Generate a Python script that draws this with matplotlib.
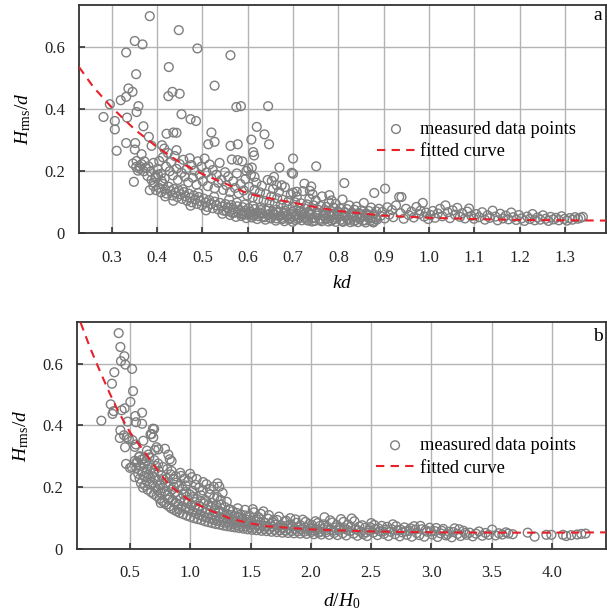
import numpy as np
import matplotlib
matplotlib.use("Agg")
import matplotlib.pyplot as plt

plt.rcParams['font.family'] = ['Liberation Serif', 'DejaVu Serif']
plt.rcParams['mathtext.fontset'] = 'custom'
plt.rcParams['mathtext.rm'] = 'Liberation Serif'
plt.rcParams['mathtext.it'] = 'Liberation Serif:italic'

# ---- panel a: Hrms/d against kd ----
a_sparse = [(0.384,0.699),(0.448,0.654),(0.351,0.619),(0.368,0.608),(0.332,0.582),(0.489,0.595),
            (0.562,0.573),(0.426,0.535),(0.354,0.512),(0.527,0.475),(0.337,0.466),(0.346,0.455),
            (0.332,0.439),(0.320,0.428),(0.425,0.441),(0.434,0.455),(0.450,0.449),(0.359,0.409),
            (0.296,0.415),(0.575,0.406),(0.585,0.409),(0.645,0.409),(0.282,0.374),(0.307,0.361),
            (0.307,0.334),(0.334,0.372),(0.355,0.390),(0.454,0.383),(0.474,0.367),(0.486,0.361),
            (0.370,0.344),(0.620,0.342),(0.637,0.318),(0.520,0.324),(0.421,0.320),(0.436,0.324),
            (0.443,0.323),(0.382,0.310),(0.608,0.301),(0.647,0.286),(0.527,0.294),(0.513,0.286),
            (0.562,0.281),(0.578,0.286),(0.332,0.290),(0.352,0.290),(0.311,0.265),(0.388,0.281),
            (0.411,0.283),(0.416,0.272),(0.443,0.267),(0.351,0.269),(0.366,0.254),(0.700,0.240),
            (0.355,0.232),(0.347,0.224),(0.362,0.215),(0.349,0.165),(0.384,0.138),(0.700,0.191),
            (0.670,0.211),(0.609,0.211),(0.615,0.181),(0.597,0.200),(0.601,0.208),(0.612,0.261),
            (0.614,0.250),(0.578,0.235),(0.751,0.215),(0.697,0.194),(0.658,0.181),(0.653,0.168),
            (0.664,0.154),(0.675,0.154),(0.725,0.159),(0.740,0.150),(0.737,0.136),(0.743,0.125),
            (0.813,0.161),(0.879,0.129),(0.903,0.143),(0.700,0.130),(0.708,0.133),(0.780,0.122),
            (0.785,0.105),(0.354,0.213),(0.358,0.201),(0.362,0.207),(0.366,0.222),(0.371,0.199),
            (0.375,0.210),(0.379,0.184),(0.372,0.231),(0.388,0.171),(0.393,0.162),(0.397,0.177),
            (0.402,0.188),(0.410,0.168)]

a_upper = [(0.381,0.215),(0.386,0.198),(0.392,0.226),(0.397,0.183),(0.401,0.207),(0.405,0.232),
           (0.409,0.191),(0.413,0.244),(0.417,0.176),(0.420,0.214),(0.424,0.258),(0.428,0.199),
           (0.431,0.229),(0.435,0.186),(0.439,0.248),(0.443,0.207),(0.446,0.171),(0.450,0.222),
           (0.454,0.194),(0.458,0.236),(0.461,0.182),(0.465,0.205),(0.469,0.163),(0.472,0.241),
           (0.476,0.219),(0.479,0.178),(0.483,0.201),(0.487,0.156),(0.490,0.231),(0.494,0.188),
           (0.498,0.214),(0.501,0.167),(0.505,0.240),(0.509,0.195),(0.512,0.151),(0.516,0.221),
           (0.520,0.176),(0.523,0.203),(0.527,0.144),(0.531,0.188),(0.535,0.162),(0.538,0.226),
           (0.542,0.171),(0.546,0.139),(0.550,0.196),(0.553,0.154),(0.557,0.182),(0.561,0.132),
           (0.565,0.237),(0.568,0.167),(0.572,0.145),(0.576,0.192),(0.580,0.128),(0.584,0.158),
           (0.588,0.231),(0.591,0.137),(0.595,0.174),(0.599,0.121),(0.603,0.149),(0.607,0.188),
           (0.611,0.115),(0.615,0.139),(0.619,0.162),(0.623,0.109),(0.627,0.131),(0.631,0.152),
           (0.635,0.104),(0.640,0.125),(0.644,0.171),(0.648,0.099),(0.652,0.118),(0.656,0.142),
           (0.660,0.095),(0.665,0.112),(0.669,0.133),(0.673,0.091),(0.677,0.107),(0.682,0.148),
           (0.686,0.088),(0.690,0.103),(0.695,0.124),(0.699,0.085),(0.704,0.099),(0.708,0.117),
           (0.713,0.082),(0.717,0.096),(0.722,0.135),(0.726,0.079),(0.731,0.092),(0.736,0.111),
           (0.740,0.077),(0.745,0.089),(0.750,0.105),(0.755,0.075),(0.760,0.087),(0.764,0.118),
           (0.769,0.073),(0.774,0.084),(0.779,0.099),(0.784,0.071),(0.789,0.082),(0.794,0.094),
           (0.799,0.069),(0.804,0.079),(0.809,0.108),(0.814,0.067),(0.819,0.077),(0.824,0.089),
           (0.830,0.066),(0.835,0.075),(0.840,0.085),(0.845,0.064),(0.851,0.073),(0.856,0.097),
           (0.861,0.063),(0.867,0.071),(0.872,0.082),(0.878,0.061),(0.883,0.070),(0.889,0.078)]

a_lower = [(0.392,0.152),(0.398,0.138),(0.404,0.146),(0.409,0.131),(0.413,0.158),(0.418,0.140),
           (0.421,0.127),(0.426,0.149),(0.430,0.135),(0.434,0.121),(0.437,0.142),(0.441,0.130),
           (0.445,0.116),(0.448,0.137),(0.452,0.125),(0.455,0.110),(0.459,0.132),(0.462,0.119),
           (0.466,0.104),(0.470,0.127),(0.473,0.113),(0.477,0.099),(0.481,0.121),(0.484,0.108),
           (0.488,0.094),(0.492,0.116),(0.495,0.103),(0.499,0.089),(0.503,0.111),(0.507,0.098),
           (0.511,0.084),(0.515,0.106),(0.519,0.093),(0.523,0.080),(0.527,0.101),(0.531,0.089),
           (0.535,0.076),(0.539,0.097),(0.543,0.085),(0.547,0.072),(0.551,0.093),(0.556,0.081),
           (0.560,0.069),(0.564,0.090),(0.568,0.077),(0.572,0.066),(0.577,0.086),(0.581,0.074),
           (0.585,0.062),(0.589,0.083),(0.593,0.071),(0.598,0.059),(0.602,0.080),(0.606,0.068),
           (0.611,0.056),(0.615,0.077),(0.619,0.065),(0.624,0.054),(0.628,0.074),(0.632,0.062),
           (0.637,0.051),(0.641,0.072),(0.646,0.060),(0.650,0.049),(0.655,0.069),(0.659,0.058),
           (0.664,0.047),(0.668,0.067),(0.673,0.056),(0.677,0.045),(0.682,0.065),(0.686,0.054),
           (0.691,0.044),(0.695,0.063),(0.700,0.052),(0.705,0.042),(0.709,0.061),(0.714,0.050),
           (0.719,0.041),(0.723,0.059),(0.728,0.049),(0.733,0.040),(0.738,0.058),(0.743,0.047),
           (0.748,0.039),(0.753,0.056),(0.758,0.046),(0.763,0.038),(0.768,0.055),(0.773,0.045),
           (0.778,0.037),(0.783,0.054),(0.789,0.044),(0.794,0.036),(0.799,0.053),(0.805,0.043),
           (0.810,0.036),(0.815,0.052),(0.821,0.042),(0.826,0.035),(0.832,0.051),(0.837,0.041),
           (0.843,0.035),(0.849,0.050),(0.854,0.040),(0.860,0.034),(0.866,0.049),(0.871,0.040),
           (0.877,0.034),(0.882,0.046)]

a_bulk = [(0.553,0.071),(0.561,0.058),(0.567,0.064),(0.574,0.052),(0.579,0.067),(0.586,0.055),
          (0.592,0.061),(0.597,0.048),(0.604,0.063),(0.609,0.050),(0.616,0.058),(0.621,0.045),
          (0.627,0.066),(0.633,0.053),(0.639,0.043),(0.644,0.059),(0.651,0.047),(0.657,0.062),
          (0.662,0.040),(0.669,0.054),(0.675,0.049),(0.681,0.038),(0.687,0.058),(0.693,0.047),
          (0.699,0.036),(0.706,0.055),(0.711,0.045),(0.718,0.065),(0.724,0.052),(0.730,0.043),
          (0.736,0.061),(0.742,0.037),(0.748,0.050),(0.754,0.066),(0.760,0.042),(0.766,0.057),
          (0.772,0.048),(0.778,0.062),(0.785,0.040),(0.791,0.059),(0.797,0.047),(0.803,0.064),
          (0.809,0.039),(0.815,0.056),(0.822,0.046),(0.828,0.061),(0.834,0.038),(0.840,0.053),
          (0.847,0.045),(0.853,0.058),(0.859,0.041),(0.865,0.055),(0.871,0.047),(0.876,0.037),
          (0.881,0.052),(0.885,0.043),
          (0.418,0.118),(0.436,0.104),(0.457,0.141),(0.474,0.088),(0.491,0.129),(0.508,0.073),
          (0.526,0.117),(0.544,0.062),(0.559,0.108),(0.576,0.098),(0.594,0.092),(0.612,0.087),
          (0.629,0.083),(0.647,0.078),(0.663,0.075),(0.681,0.072),(0.698,0.068),(0.716,0.071),
          (0.734,0.068),(0.752,0.063),(0.771,0.066),(0.790,0.063),(0.808,0.060),(0.827,0.058),
          (0.846,0.062),(0.864,0.059)]

a_tail = [(0.893,0.055),(0.897,0.068),(0.902,0.047),(0.908,0.083),(0.912,0.059),(0.918,0.074),
          (0.921,0.051),(0.927,0.089),(0.934,0.116),(0.939,0.116),(0.937,0.064),(0.944,0.046),
          (0.949,0.078),(0.955,0.058),(0.961,0.069),(0.966,0.050),(0.972,0.084),(0.978,0.061),
          (0.981,0.072),(0.986,0.097),(0.989,0.053),(0.993,0.066),(0.998,0.045),(1.003,0.058),
          (1.008,0.071),(1.013,0.049),(1.019,0.063),(1.024,0.078),(1.029,0.054),(1.036,0.089),
          (1.041,0.067),(1.046,0.048),(1.052,0.073),(1.057,0.059),(1.062,0.081),(1.068,0.052),
          (1.073,0.064),(1.079,0.047),(1.084,0.069),(1.088,0.079),(1.093,0.055),(1.099,0.046),
          (1.104,0.061),(1.110,0.051),(1.117,0.067),(1.123,0.043),(1.129,0.057),(1.134,0.049),
          (1.140,0.072),(1.146,0.053),(1.151,0.041),(1.157,0.062),(1.163,0.047),(1.169,0.056),
          (1.175,0.044),(1.181,0.066),(1.186,0.051),(1.192,0.042),(1.198,0.058),(1.204,0.047),
          (1.210,0.039),(1.216,0.053),(1.222,0.045),(1.228,0.061),(1.233,0.041),(1.239,0.050),
          (1.245,0.043),(1.251,0.057),(1.257,0.046),(1.263,0.039),(1.268,0.052),(1.274,0.044),
          (1.280,0.049),(1.286,0.041),(1.292,0.054),(1.298,0.045),(1.304,0.040),(1.310,0.048),
          (1.316,0.043),(1.322,0.051),(1.328,0.046),(1.334,0.049),(1.339,0.052)]

kd_fit = [0.228, 0.26, 0.30, 0.35, 0.40, 0.45, 0.50, 0.55, 0.60, 0.65, 0.70, 0.75, 0.80,
          0.90, 1.00, 1.10, 1.20, 1.30, 1.39]
hd_fit_a = [0.535, 0.47, 0.405, 0.335, 0.277, 0.228, 0.190, 0.160, 0.127, 0.111, 0.098,
            0.083, 0.071, 0.056, 0.049, 0.045, 0.042, 0.041, 0.040]

# ---- panel b: Hrms/d against d/H0 ----
b_sparse = [(0.406,0.699),(0.420,0.654),(0.453,0.624),(0.425,0.608),(0.461,0.597),(0.517,0.583),
            (0.370,0.572),(0.350,0.535),(0.525,0.511),(0.503,0.476),(0.340,0.468),(0.364,0.446),
            (0.355,0.437),(0.430,0.449),(0.455,0.455),(0.600,0.441),(0.544,0.430),(0.262,0.415),
            (0.480,0.412),(0.550,0.410),(0.600,0.405),(0.420,0.384),(0.450,0.368),(0.415,0.359),
            (0.690,0.389),(0.670,0.371),(0.610,0.350),(0.490,0.356),(0.520,0.352),(0.473,0.361),
            (0.459,0.329),(0.540,0.330),(0.548,0.338),(0.693,0.361),(0.680,0.372),(0.700,0.388),
            (0.467,0.275),(0.514,0.265),(0.540,0.285),(0.552,0.279),(0.540,0.232),(0.640,0.318),
            (0.652,0.305),(0.660,0.296),(0.720,0.329),(0.735,0.322),(0.705,0.320),(0.790,0.324),
            (0.818,0.305),(0.830,0.290),(0.845,0.284),(0.500,0.262),(0.580,0.300),(0.620,0.293)]

b_band = [(0.552,0.262),(0.561,0.281),(0.568,0.243),(0.574,0.297),(0.580,0.227),(0.586,0.268),
          (0.591,0.212),(0.597,0.289),(0.603,0.251),(0.608,0.198),(0.614,0.273),(0.619,0.236),
          (0.625,0.205),(0.631,0.284),(0.636,0.219),(0.642,0.258),(0.647,0.191),(0.653,0.241),
          (0.659,0.276),(0.664,0.208),(0.670,0.229),(0.676,0.183),(0.681,0.262),(0.687,0.214),
          (0.693,0.247),(0.698,0.177),(0.704,0.232),(0.710,0.199),(0.716,0.268),(0.721,0.171),
          (0.727,0.221),(0.733,0.189),(0.738,0.252),(0.744,0.162),(0.750,0.206),(0.756,0.181),
          (0.761,0.237),(0.767,0.155),(0.773,0.197),(0.779,0.224),(0.784,0.149),(0.790,0.186),
          (0.796,0.213),(0.802,0.143),(0.808,0.258),(0.813,0.174),(0.819,0.202),(0.825,0.137),
          (0.831,0.166),(0.837,0.241),(0.842,0.131),(0.848,0.192),(0.854,0.158),(0.860,0.226),
          (0.866,0.126),(0.872,0.181),(0.877,0.149),(0.883,0.214),(0.889,0.121),(0.895,0.171),
          (0.901,0.143),(0.907,0.203),(0.913,0.116),(0.919,0.162),(0.924,0.236),(0.930,0.137),
          (0.936,0.193),(0.942,0.112),(0.948,0.154),(0.954,0.228),(0.960,0.131),(0.966,0.184),
          (0.972,0.107),(0.978,0.147),(0.984,0.219),(0.990,0.125),(0.996,0.176),(1.002,0.103),
          (1.008,0.141),(1.014,0.232),(1.020,0.119),(1.026,0.168),(1.032,0.099),(1.038,0.135),
          (1.044,0.207),(1.050,0.114),(1.056,0.161),(1.062,0.096),(1.068,0.129),(1.074,0.198),
          (1.080,0.109),(1.086,0.154),(1.092,0.093),(1.098,0.124),(1.104,0.189),(1.110,0.104),
          (1.116,0.147),(1.122,0.089),(1.128,0.119),(1.134,0.209),(1.140,0.101),(1.146,0.141),
          (1.152,0.086),(1.158,0.114),(1.164,0.176),(1.170,0.097),(1.176,0.135),(1.182,0.083),
          (1.188,0.110),(1.194,0.201),(1.200,0.093),(1.206,0.129),(1.212,0.080),(1.218,0.106),
          (1.224,0.168),(1.231,0.090),(1.237,0.124),(1.243,0.078),(1.249,0.102),(1.256,0.143),
          (1.262,0.087),(1.268,0.181),(1.275,0.075),(1.281,0.098),(1.288,0.135),(1.294,0.084),
          (1.300,0.113),(1.307,0.073),(1.313,0.095),(1.320,0.128),(1.326,0.081),(1.333,0.109),
          (1.339,0.071),(1.346,0.092),(1.352,0.122),(1.359,0.079),(1.366,0.105),(1.372,0.069),
          (1.379,0.089),(1.386,0.116),(1.392,0.076),(1.399,0.101),(1.406,0.067),(1.413,0.086),
          (1.420,0.111),(1.427,0.074),(1.434,0.097),(1.441,0.065),(1.448,0.083),(1.455,0.126),
          (1.462,0.072),(1.469,0.094),(1.476,0.063),(1.484,0.081),(1.491,0.107),(1.498,0.070),
          (1.506,0.091),(1.513,0.061),(1.521,0.079),(1.528,0.118),(1.536,0.068),(1.543,0.088),
          (1.551,0.060),(1.559,0.077),(1.567,0.102),(1.575,0.066),(1.583,0.085),(1.591,0.058),
          (1.599,0.075),(1.607,0.121),(1.615,0.064),(1.623,0.083),(1.632,0.057),(1.640,0.073),
          (1.648,0.097),(1.657,0.063),(1.665,0.080),(1.674,0.055),(1.682,0.071),(1.691,0.092),
          (1.700,0.061),(1.709,0.078),(1.718,0.054),(1.727,0.069),(1.736,0.104),(1.745,0.060),
          (1.754,0.076),(1.763,0.052),(1.773,0.067),(1.782,0.088),(1.792,0.058),(1.801,0.074),
          (1.811,0.051),(1.820,0.066),(1.830,0.099),(1.840,0.057),(1.850,0.072),(1.860,0.050),
          (1.870,0.064),(1.880,0.084),(1.891,0.056),(1.901,0.070),(1.911,0.049),(1.922,0.063),
          (1.933,0.094),(1.944,0.055),(1.954,0.069),(1.965,0.048),(1.977,0.061),(1.988,0.080)]

b_band2 = [(0.702,0.287),(0.734,0.276),(0.755,0.148),(0.772,0.265),(0.806,0.228),(0.818,0.159),
           (0.845,0.252),(0.863,0.201),(0.879,0.235),(0.904,0.128),(0.917,0.246),(0.943,0.176),
           (0.962,0.205),(0.981,0.159),(0.998,0.243),(1.017,0.188),(1.036,0.151),(1.053,0.226),
           (1.071,0.139),(1.089,0.173),(1.107,0.216),(1.125,0.158),(1.143,0.127),(1.161,0.194),
           (1.179,0.149),(1.197,0.165),(1.209,0.117),(1.226,0.212),(1.241,0.201),(1.252,0.158),
           (1.215,0.142),(1.246,0.121),(1.271,0.099),(1.303,0.152),(1.331,0.127),(1.361,0.088),
           (1.394,0.131),(1.424,0.095),(1.458,0.108),(1.488,0.086),(1.519,0.128),(1.553,0.095),
           (1.586,0.113),(1.619,0.072),(1.652,0.109),(1.686,0.085),(1.721,0.093),(1.758,0.068),
           (1.795,0.091),(1.833,0.079),(1.873,0.095),(1.914,0.076),(1.957,0.087),(1.993,0.065)]

b_flat = [(2.003,0.054),(2.015,0.067),(2.027,0.047),(2.039,0.089),(2.051,0.060),(2.063,0.052),
          (2.076,0.074),(2.088,0.046),(2.101,0.065),(2.114,0.102),(2.127,0.053),(2.140,0.071),
          (2.153,0.045),(2.167,0.062),(2.180,0.085),(2.194,0.051),(2.208,0.069),(2.222,0.044),
          (2.236,0.059),(2.251,0.096),(2.265,0.050),(2.280,0.066),(2.295,0.043),(2.310,0.078),
          (2.325,0.057),(2.340,0.098),(2.355,0.049),(2.371,0.063),(2.387,0.042),(2.403,0.072),
          (2.419,0.055),(2.435,0.047),(2.452,0.068),(2.468,0.041),(2.485,0.059),(2.502,0.083),
          (2.519,0.052),(2.536,0.064),(2.554,0.044),(2.571,0.057),(2.589,0.074),(2.607,0.048),
          (2.625,0.062),(2.644,0.041),(2.662,0.055),(2.681,0.079),(2.700,0.047),(2.719,0.060),
          (2.738,0.040),(2.758,0.053),(2.777,0.069),(2.797,0.045),(2.817,0.058),(2.838,0.039),
          (2.858,0.073),(2.879,0.051),(2.900,0.044),(2.921,0.063),(2.942,0.039),(2.964,0.055),
          (2.986,0.068),(3.008,0.046),(3.030,0.057),(3.053,0.038),(3.076,0.050),(3.099,0.064),
          (3.122,0.043),(3.146,0.055),(3.170,0.037),(3.194,0.066),(3.218,0.048),(3.243,0.041),
          (3.268,0.058),(3.293,0.045),(3.318,0.052),(3.344,0.040),(3.370,0.049),(3.396,0.056),
          (3.423,0.042),(3.450,0.051),(3.477,0.045),(3.505,0.062),(3.533,0.043),(3.561,0.050),
          (3.590,0.046),(3.619,0.053),
          (2.009,0.077),(2.033,0.058),(2.057,0.083),(2.082,0.055),(2.107,0.079),(2.133,0.061),
          (2.160,0.092),(2.187,0.058),(2.215,0.077),(2.243,0.065),(2.272,0.087),(2.302,0.061),
          (2.332,0.071),(2.362,0.089),(2.394,0.060),(2.426,0.076),(2.460,0.053),(2.493,0.070),
          (2.527,0.077),(2.562,0.066),(2.598,0.056),(2.634,0.071),(2.671,0.063),(2.709,0.073),
          (2.748,0.061),(2.787,0.056),(2.827,0.066),(2.868,0.062),(2.910,0.074),(2.953,0.060),
          (2.997,0.056),(3.041,0.067),(3.087,0.058),(3.134,0.047),(3.182,0.054),(3.231,0.063),
          (3.281,0.051)]

b_tail = [(3.640,0.049),(3.676,0.047),(3.800,0.052),(3.858,0.039),(3.955,0.045),(3.997,0.045),
          (4.093,0.045),(4.120,0.041),(4.160,0.044),(4.210,0.046),(4.245,0.048),(4.280,0.049)]

dh_fit = [0.09, 0.17, 0.25, 0.33, 0.40, 0.50, 0.60, 0.67, 0.75, 0.83, 0.92, 1.00, 1.16,
          1.33, 1.50, 1.63, 2.0, 2.5, 3.0, 3.5, 4.0, 4.45]
hd_fit_b = [0.733, 0.65, 0.576, 0.505, 0.447, 0.377, 0.325, 0.286, 0.243, 0.205, 0.177,
            0.155, 0.125, 0.098, 0.082, 0.073, 0.0625, 0.056, 0.053, 0.052, 0.052, 0.053]

grey = '#7f7f7f'
red = '#e8202a'

fig = plt.figure(figsize=(6.07, 6.14), dpi=100)
ax_a = fig.add_axes([79/607, 1 - 233/614, 527/607, 228/614])
ax_b = fig.add_axes([77/607, 1 - 548.7/614, 529/607, 226.7/614])


def draw_panel(ax, pts, fx, fy, xlim, xticks, xlabel, letter, letter_y):
    x, y = np.array(pts).T
    ax.scatter(x, y, s=40, facecolors='none', edgecolors=grey, linewidths=1.0,
               label='measured data points', zorder=3)
    ax.plot(fx, fy, color=red, ls=(0, (4, 3)), lw=1.5, label='fitted curve', zorder=4)
    ax.set_xlim(*xlim)
    ax.set_ylim(0, 0.735)
    ax.set_xticks(xticks)
    ax.set_yticks([0, 0.2, 0.4, 0.6])
    ax.set_yticklabels(['0', '0.2', '0.4', '0.6'])
    ax.grid(True, color='#b4b4b4', lw=1.0, zorder=0)
    ax.set_axisbelow(True)
    ax.tick_params(direction='in', length=4, width=1.2, color='#333333', labelsize=12,
                   labelcolor='#222222')
    ax.tick_params(axis='x', pad=12)
    ax.tick_params(axis='y', pad=10)
    for s in ax.spines.values():
        s.set_color('#333333')
        s.set_linewidth(1.3)
    ax.set_ylabel(r'$H_{\mathrm{rms}}/d$', fontsize=14, labelpad=8)
    ax.set_xlabel(xlabel, fontsize=14, labelpad=7)
    ax.text(0.984, letter_y, letter, transform=ax.transAxes, fontsize=14,
            ha='center', va='center')
    ax.legend(loc='center left', bbox_to_anchor=(0.534, 0.405), frameon=False,
              fontsize=13.3, handlelength=2.05, handletextpad=0.3, labelspacing=0.3,
              scatterpoints=1)


draw_panel(ax_a, a_sparse + a_upper + a_lower + a_bulk + a_tail, kd_fit, hd_fit_a,
           (0.228, 1.39), [0.3, 0.4, 0.5, 0.6, 0.7, 0.8, 0.9, 1.0, 1.1, 1.2, 1.3],
           r'$kd$', 'a', 0.955)
ax_a.set_xticklabels(['0.3', '0.4', '0.5', '0.6', '0.7', '0.8', '0.9', '1.0', '1.1', '1.2', '1.3'])

draw_panel(ax_b, b_sparse + b_band + b_band2 + b_flat + b_tail, dh_fit, hd_fit_b,
           (0.06, 4.45), [0.5, 1.0, 1.5, 2.0, 2.5, 3.0, 3.5, 4.0],
           r'$d/H_0$', 'b', 0.935)
ax_b.set_xticklabels(['0.5', '1.0', '1.5', '2.0', '2.5', '3.0', '3.5', '4.0'])

fig.savefig('out.png', dpi=100)
